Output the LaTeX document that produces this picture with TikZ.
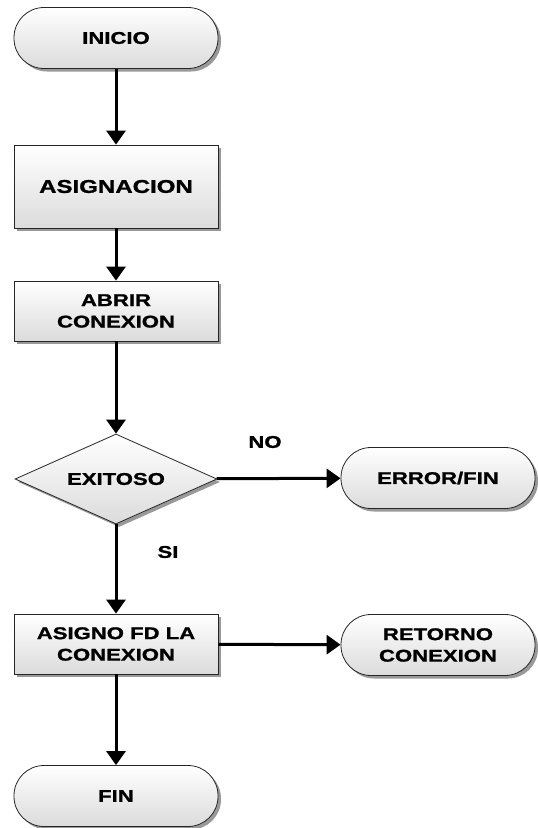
\documentclass[tikz,border=0pt]{standalone}
\usepackage{fontspec}
\setmainfont{Liberation Sans}[FakeStretch=1.3, BoldFeatures={FakeBold=1.2}]
\usetikzlibrary{arrows.meta,shapes.geometric,shadows}

\tikzset{
  base/.style={draw=black!85, line width=0.8pt, top color=white, bottom color=black!14,
    drop shadow={shadow xshift=3pt, shadow yshift=-3pt, fill=black!50, opacity=0.8},
    font=\bfseries\fontsize{17}{21.5}\selectfont, align=center, inner sep=0pt},
  terminal/.style={base, rectangle, rounded corners=30pt, minimum width=204pt, minimum height=61pt},
  proceso/.style={base, rectangle, minimum width=204pt, minimum height=60pt},
  decision/.style={base, diamond, aspect=2.24, minimum width=202pt, minimum height=90pt},
  flecha/.style={line width=3pt, -{Triangle[width=19pt,length=14pt]}},
  etiqueta/.style={font=\bfseries\fontsize{17}{20}\selectfont}
}

\begin{document}
\begin{tikzpicture}[x=1pt, y=-1pt]
		\useasboundingbox (0, 0) rectangle (538, 828);
		
		%%%%% NODOS %%%%%
		\node[terminal] (inicio) at (116, 38) {INICIO};
		\node[proceso, minimum height=83pt, font=\bfseries\fontsize{18.5}{21.5}\selectfont] (asignacion) at (116, 186.5) {ASIGNACION};
		\node[proceso] (abrir) at (116, 311) {ABRIR\\CONEXION};
		\node[decision] (exitoso) at (116, 479) {EXITOSO};
		\node[terminal, minimum width=194pt] (error) at (438, 478) {ERROR/FIN};
		\node[proceso] (asigno) at (116, 644) {ASIGNO FD LA\\CONEXION};
		\node[terminal, minimum width=194pt] (retorno) at (438, 645) {RETORNO\\CONEXION};
		\node[terminal] (fin) at (116, 796) {FIN};
		
		\node[etiqueta] (no) at (265, 442) {NO};
		\node[etiqueta] (si) at (168, 552) {SI};
		
		%%%%% FLECHAS %%%%%
		\draw[flecha] (inicio) -- (asignacion);
		\draw[flecha] (asignacion) -- (abrir);
		\draw[flecha] (abrir) -- (exitoso);
		\draw[flecha] (exitoso) -- (error);
		\draw[flecha] (exitoso) -- (asigno);
		\draw[flecha] (asigno) -- (retorno);
		\draw[flecha] (asigno) -- (fin);
		
	\end{tikzpicture}
\end{document}
